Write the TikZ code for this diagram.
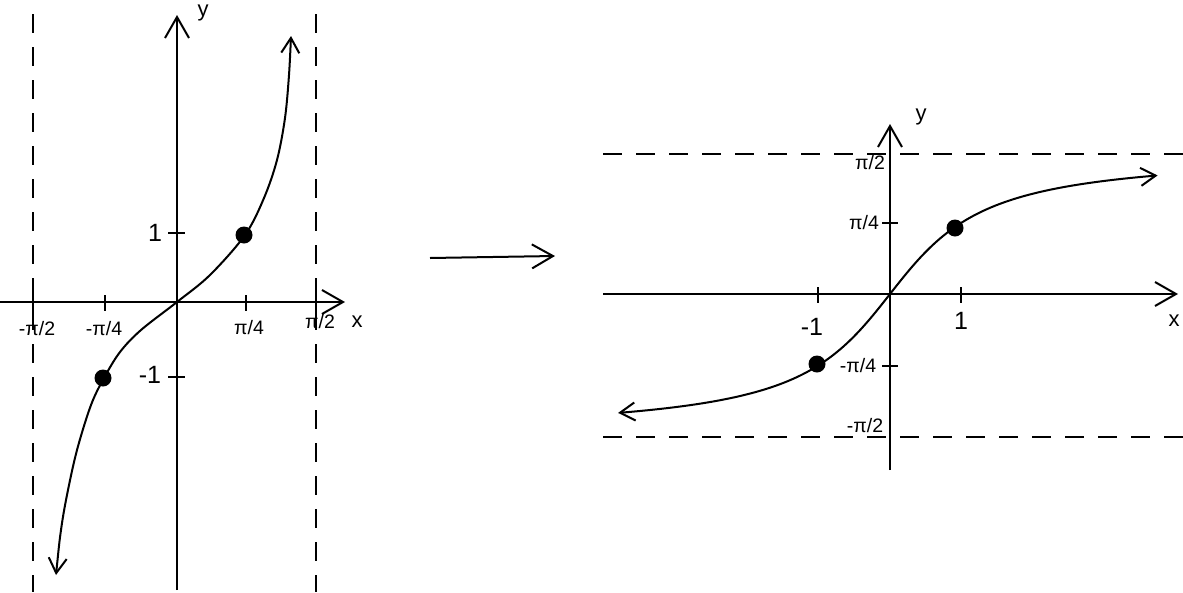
\documentclass[tikz,border=0pt]{standalone}
\usepackage{fontspec}
\setmainfont{Liberation Sans}
\usetikzlibrary{arrows.meta}
\begin{document}
\begin{tikzpicture}[x=1pt,y=-1pt,
  axis/.style={line width=2pt, -{Straight Barb[length=21pt,width=24pt,line width=2pt]}},
  curve/.style={line width=2pt, {Straight Barb[length=15pt,width=18pt,line width=2pt]}-{Straight Barb[length=15pt,width=18pt,line width=2pt]}},
  asym/.style={line width=1.8pt, dash pattern=on 19pt off 14pt},
  tick/.style={line width=1.8pt},
  dot/.style={circle, fill=black, inner sep=0pt, minimum size=17pt},
  lab/.style={font=\fontsize{19.5}{21}\selectfont, inner sep=0pt},
  num/.style={font=\fontsize{25}{27}\selectfont, inner sep=0pt},
  var/.style={font=\fontsize{22}{24}\selectfont, inner sep=0pt}]
\useasboundingbox (0,0) rectangle (1183,592);

% ---------- left graph ----------
\coordinate (LxS) at (0,302);
\coordinate (LxE) at (345,302);
\coordinate (LyS) at (177,590);
\coordinate (LyE) at (177,15);
\draw[asym] (33,14) -- (33,592);
\draw[asym] (316,14) -- (316,592);
\draw[axis] (LxS) -- (LxE);
\draw[axis] (LyS) -- (LyE);
\foreach \t in {33,105,246,316}
  \draw[tick] (\t,295) -- (\t,311);
\draw[tick] (168,233) -- (185,233);
\draw[tick] (168,377) -- (185,377);
\draw[curve] plot[smooth, tension=0.55] coordinates {
  (56,575) (61,530) (67,495) (77,450) (91,405) (104,378) (120,352) (141,330)
  (177,302) (210,275) (245,235) (264,198) (277,160) (285,118) (289,75) (291,36)};
\node[dot] (ld1) at (103,378) {};
\node[dot] (ld2) at (244,235) {};
\node[lab] (l1) at (37,329) {-π/2};
\node[lab] (l2) at (104,329) {-π/4};
\node[lab] (l3) at (249,328) {π/4};
\node[lab] (l4) at (320,322) {π/2};
\node[var] (lx) at (357,322) {x};
\node[var] (ly) at (203,13) {y};
\node[num] (lone) at (155,233) {1};
\node[num] (lmone) at (150,375) {-1};

% ---------- arrow between ----------
\coordinate (mA) at (430,258);
\coordinate (mB) at (555,256);
\draw[axis] (mA) -- (mB);

% ---------- right graph ----------
\coordinate (RxS) at (603,294);
\coordinate (RxE) at (1178,294);
\coordinate (RyS) at (890,470);
\coordinate (RyE) at (890,124);
\draw[asym] (603,154) -- (1183,154);
\draw[asym] (603,437) -- (1183,437);
\draw[axis] (RxS) -- (RxE);
\draw[axis] (RyS) -- (RyE);
\draw[tick] (818,287) -- (818,303);
\draw[tick] (961,287) -- (961,303);
\draw[tick] (882,223) -- (898,223);
\draw[tick] (882,366) -- (898,366);
\draw[curve] plot[domain=-3.83:3.77, samples=120, smooth]
  ({890+71*\x},{294-90.4*rad(atan(\x))});
\node[dot] (rd1) at (817,364) {};
\node[dot] (rd2) at (955,228) {};
\node[lab] (r1) at (870,163) {π/2};
\node[lab] (r2) at (864,223) {π/4};
\node[lab] (r3) at (858,366) {-π/4};
\node[lab] (r4) at (865,426) {-π/2};
\node[num] (rmone) at (812,327) {-1};
\node[num] (rone) at (961,321) {1};
\node[var] (rx) at (1174,321) {x};
\node[var] (ry) at (921,117) {y};
\end{tikzpicture}
\end{document}
